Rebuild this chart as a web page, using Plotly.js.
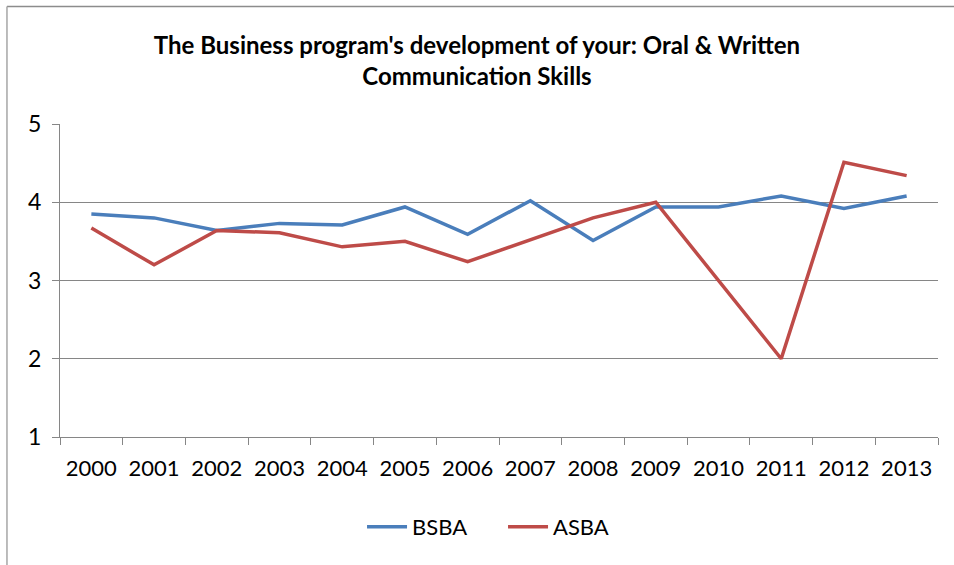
<!DOCTYPE html>
<html>
<head>
<meta charset="utf-8">
<script src="https://cdn.plot.ly/plotly-3.0.1.min.js"></script>
<style>html,body{margin:0;padding:0;background:#fff;}#chart{width:954px;height:565px;}</style>
</head>
<body>
<div id="chart"></div>
<script>
const years = ['2000','2001','2002','2003','2004','2005','2006','2007','2008','2009','2010','2011','2012','2013'];
const bsba = [3.85, 3.80, 3.64, 3.73, 3.71, 3.94, 3.59, 4.02, 3.51, 3.94, 3.94, 4.08, 3.92, 4.08];
const asba = [3.67, 3.20, 3.64, 3.61, 3.43, 3.50, 3.24, 3.52, 3.80, 4.00, 3.00, 2.00, 4.51, 4.34];
const yTicks = [1, 2, 3, 4, 5];
const titleText = "The Business program's development of your: Oral & Written<br>Communication Skills";

const font = 'Lato, Calibri, "Open Sans", sans-serif';
const traces = [
  {x: years, y: bsba, name: 'BSBA', type: 'scatter', mode: 'lines',
   line: {color: '#4A7EBB', width: 3.5}},
  {x: years, y: asba, name: 'ASBA', type: 'scatter', mode: 'lines',
   line: {color: '#BE4B48', width: 3.5}}
];
const layout = {
  width: 954, height: 565,
  margin: {l: 60, r: 16, t: 124, b: 128},
  paper_bgcolor: '#fff', plot_bgcolor: '#fff',
  font: {family: font, color: '#000'},
  title: {text: '<b>' + titleText + '</b>', font: {family: font, size: 24, color: '#000'},
          x: 0.5, xref: 'container', xanchor: 'center', y: 0.904, yref: 'container', yanchor: 'middle'},
  showlegend: true,
  legend: {orientation: 'h', x: 0.344, xanchor: 'left', y: -0.2875, yanchor: 'middle',
           font: {family: font, size: 22, color: '#000'}, itemwidth: 40, tracegroupgap: 0,
           entrywidth: 86},
  xaxis: {type: 'category', range: [-0.5, 13.5], tickson: 'boundaries', ticks: 'outside',
          ticklen: 7, tickcolor: '#868686', showline: true, linecolor: '#868686', linewidth: 1,
          showgrid: false, zeroline: false, tickfont: {family: font, size: 22, color: '#000'},
          ticklabelstandoff: 12, fixedrange: true},
  yaxis: {range: [1, 5], tickvals: yTicks, ticktext: yTicks.map(String), ticks: 'outside', ticklen: 7,
          tickcolor: '#868686', showline: true, linecolor: '#868686', linewidth: 1,
          showgrid: true, gridcolor: '#868686', gridwidth: 1, zeroline: false,
          tickfont: {family: font, size: 23, color: '#000'}, ticklabelstandoff: 6, fixedrange: true},
  shapes: [
    {type: 'line', xref: 'paper', yref: 'paper', x0: -0.0604, x1: 1.02, y0: 1.3754, y1: 1.3754,
     line: {color: '#8c8c8c', width: 1.5}},
    {type: 'line', xref: 'paper', yref: 'paper', x0: -0.0604, x1: -0.0604, y0: 1.3754, y1: -0.41,
     line: {color: '#a6a6a6', width: 1.5}}
  ]
};
Plotly.newPlot('chart', traces, layout, {displayModeBar: false, staticPlot: true});
</script>
</body>
</html>
